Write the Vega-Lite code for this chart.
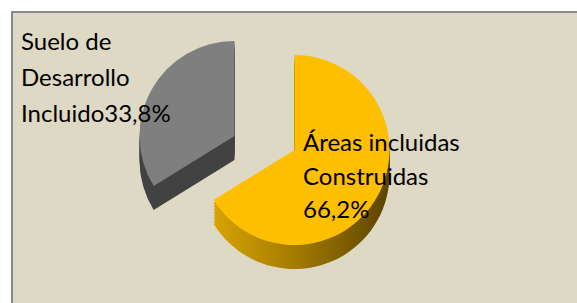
{
  "$schema": "https://vega.github.io/schema/vega-lite/v6.json",
  "width": 565,
  "height": 291,
  "autosize": {"type": "none"},
  "padding": {"left": 12, "top": 12, "right": 0, "bottom": 0},
  "background": "#ffffff",
  "config": {
    "view": {"stroke": null},
    "text": {"font": "Lato"}
  },
  "data": {
    "values": [
      {"category": "Áreas incluidas Construidas", "value": 66.2, "label": "Áreas incluidas\nConstruidas\n66,2%"},
      {"category": "Suelo de Desarrollo Incluido", "value": 33.8, "label": "Suelo de\nDesarrollo\nIncluido33,8%"}
    ]
  },
  "transform": [
    {"stack": "value", "groupby": [], "sort": [{"field": "value", "order": "descending"}], "as": ["t0", "t1"]}
  ],
  "encoding": {
    "theta": {"field": "t0", "type": "quantitative", "scale": {"domain": [0, 100]}},
    "theta2": {"field": "t1"}
  },
  "layer": [
    {
      "transform": [{"filter": "datum.value > 50"}],
      "mark": {"type": "rect", "fill": "#ddd9c4", "stroke": "#8a8a8a", "strokeWidth": 2, "strokeDash": [565, 856, 300]},
      "encoding": {"theta": null, "theta2": null}
    },
    {"transform": [{"filter": "datum.value < 50"}], "mark": {"type": "arc", "radius": 95, "xOffset": -60, "fill": "#424242", "yOffset": 2.5}},
    {"transform": [{"filter": "datum.value < 50"}], "mark": {"type": "arc", "radius": 95, "xOffset": -60, "fill": "#424242", "yOffset": -0.5}},
    {"transform": [{"filter": "datum.value < 50"}], "mark": {"type": "arc", "radius": 95, "xOffset": -60, "fill": "#424242", "yOffset": -3.5}},
    {"transform": [{"filter": "datum.value < 50"}], "mark": {"type": "arc", "radius": 95, "xOffset": -60, "fill": "#424242", "yOffset": -6.5}},
    {"transform": [{"filter": "datum.value < 50"}], "mark": {"type": "arc", "radius": 95, "xOffset": -60, "fill": "#424242", "yOffset": -9.5}},
    {"transform": [{"filter": "datum.value < 50"}], "mark": {"type": "arc", "radius": 95, "xOffset": -60, "fill": "#424242", "yOffset": -12.5}},
    {"transform": [{"filter": "datum.value < 50"}], "mark": {"type": "arc", "radius": 95, "xOffset": -60, "fill": "#424242", "yOffset": -15.5}},
    {"transform": [{"filter": "datum.value < 50"}], "mark": {"type": "arc", "radius": 95, "xOffset": -60, "fill": "#424242", "yOffset": -18.5}},
    {"transform": [{"filter": "datum.value < 50"}], "mark": {"type": "arc", "radius": 95, "xOffset": -60, "fill": "#7f7f7f", "yOffset": -21.5}},
    {"transform": [{"filter": "datum.value > 50"}], "mark": {"type": "arc", "radius": 95, "yOffset": 16.5, "fill": {"gradient": "linear", "x1": 0, "y1": 0, "x2": 1, "y2": 0, "stops": [{"offset": 0, "color": "#d8a400"}, {"offset": 0.45, "color": "#a57c00"}, {"offset": 1, "color": "#5c4400"}]}}},
    {"transform": [{"filter": "datum.value > 50"}], "mark": {"type": "arc", "radius": 95, "yOffset": 13.5, "fill": {"gradient": "linear", "x1": 0, "y1": 0, "x2": 1, "y2": 0, "stops": [{"offset": 0, "color": "#d8a400"}, {"offset": 0.45, "color": "#a57c00"}, {"offset": 1, "color": "#5c4400"}]}}},
    {"transform": [{"filter": "datum.value > 50"}], "mark": {"type": "arc", "radius": 95, "yOffset": 10.5, "fill": {"gradient": "linear", "x1": 0, "y1": 0, "x2": 1, "y2": 0, "stops": [{"offset": 0, "color": "#d8a400"}, {"offset": 0.45, "color": "#a57c00"}, {"offset": 1, "color": "#5c4400"}]}}},
    {"transform": [{"filter": "datum.value > 50"}], "mark": {"type": "arc", "radius": 95, "yOffset": 7.5, "fill": {"gradient": "linear", "x1": 0, "y1": 0, "x2": 1, "y2": 0, "stops": [{"offset": 0, "color": "#d8a400"}, {"offset": 0.45, "color": "#a57c00"}, {"offset": 1, "color": "#5c4400"}]}}},
    {"transform": [{"filter": "datum.value > 50"}], "mark": {"type": "arc", "radius": 95, "yOffset": 4.5, "fill": {"gradient": "linear", "x1": 0, "y1": 0, "x2": 1, "y2": 0, "stops": [{"offset": 0, "color": "#d8a400"}, {"offset": 0.45, "color": "#a57c00"}, {"offset": 1, "color": "#5c4400"}]}}},
    {"transform": [{"filter": "datum.value > 50"}], "mark": {"type": "arc", "radius": 95, "yOffset": 1.5, "fill": {"gradient": "linear", "x1": 0, "y1": 0, "x2": 1, "y2": 0, "stops": [{"offset": 0, "color": "#d8a400"}, {"offset": 0.45, "color": "#a57c00"}, {"offset": 1, "color": "#5c4400"}]}}},
    {"transform": [{"filter": "datum.value > 50"}], "mark": {"type": "arc", "radius": 95, "yOffset": -1.5, "fill": {"gradient": "linear", "x1": 0, "y1": 0, "x2": 1, "y2": 0, "stops": [{"offset": 0, "color": "#d8a400"}, {"offset": 0.45, "color": "#a57c00"}, {"offset": 1, "color": "#5c4400"}]}}},
    {"transform": [{"filter": "datum.value > 50"}], "mark": {"type": "arc", "radius": 95, "yOffset": -4.5, "fill": {"gradient": "linear", "x1": 0, "y1": 0, "x2": 1, "y2": 0, "stops": [{"offset": 0, "color": "#d8a400"}, {"offset": 0.45, "color": "#a57c00"}, {"offset": 1, "color": "#5c4400"}]}}},
    {"transform": [{"filter": "datum.value > 50"}], "mark": {"type": "arc", "radius": 95, "yOffset": -7.5, "fill": "#fdbf00"}},
    {
      "transform": [{"filter": "datum.value > 50"}],
      "mark": {"type": "text", "align": "left", "baseline": "alphabetic", "dx": 8.5, "dy": -6.5, "fontSize": 24, "lineHeight": 33.5, "lineBreak": "\n", "color": "#000000"},
      "encoding": {"theta": null, "theta2": null, "text": {"field": "label"}}
    },
    {
      "transform": [{"filter": "datum.value < 50"}],
      "mark": {"type": "text", "align": "left", "baseline": "alphabetic", "dx": -273.5, "dy": -107.5, "fontSize": 24, "lineHeight": 36, "lineBreak": "\n", "color": "#000000"},
      "encoding": {"theta": null, "theta2": null, "text": {"field": "label"}}
    }
  ]
}
